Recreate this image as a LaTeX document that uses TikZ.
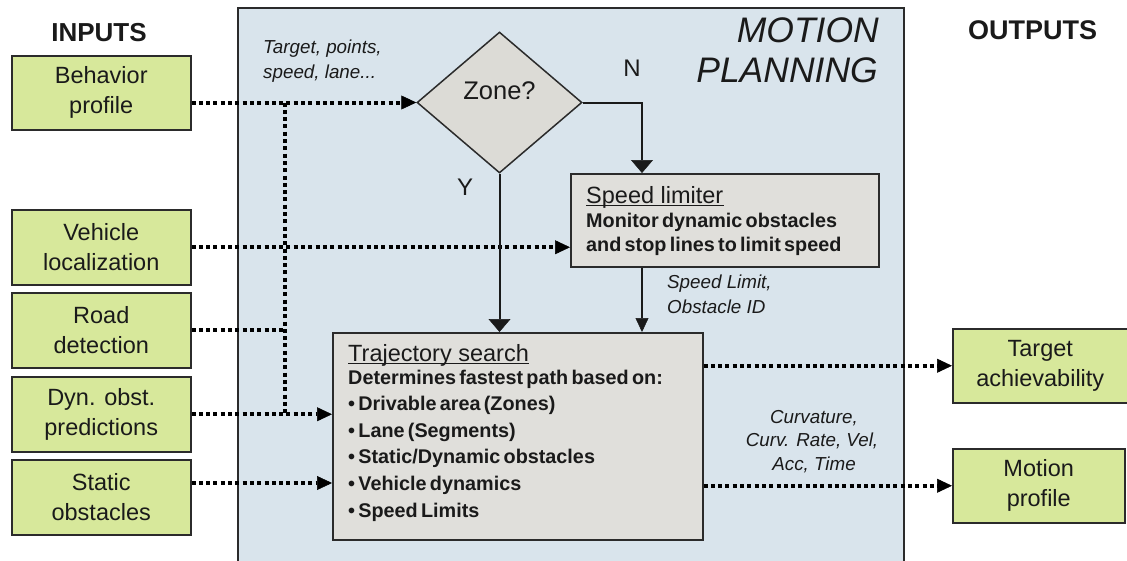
\documentclass[tikz,border=0pt]{standalone}
\usepackage{fontspec}
\setmainfont{Liberation Sans}
\newfontfamily\tightfont{Liberation Sans}[WordSpace=0.6]
\usetikzlibrary{arrows.meta,shapes.geometric}

\definecolor{panelblue}{HTML}{D9E4EC}
\definecolor{ingreen}{HTML}{D7E89B}
\definecolor{procgray}{HTML}{E0DFDB}
\definecolor{decgray}{HTML}{DCDBD6}
\definecolor{edge}{HTML}{2B2B2B}
\definecolor{ink}{HTML}{1A1A1A}

\tikzset{
  txt/.style={inner sep=0pt, text=ink},
  iobox/.style={draw=edge, line width=1.5pt, fill=ingreen, anchor=north west,
    minimum height=74pt, align=center, inner sep=0pt, text=ink,
    font=\fontsize{23.5}{30}\selectfont},
  procbox/.style={draw=edge, line width=1.5pt, fill=procgray, anchor=north west, inner sep=0pt},
  head/.style={txt, anchor=base, font=\bfseries\fontsize{26}{30}\selectfont},
  boxtitle/.style={txt, anchor=base west, font=\fontsize{23.5}{28}\selectfont},
  boxline/.style={txt, anchor=base west, font=\tightfont\bfseries\fontsize{19.8}{24}\selectfont},
  note/.style={txt, font=\itshape\fontsize{18.8}{24}\selectfont},
  yn/.style={txt, anchor=base, font=\fontsize{24}{28}\selectfont},
  uline/.style={draw=ink, line width=1.2pt},
  flow/.style={draw=ink, line width=2pt, -{Triangle[length=13pt,width=22pt,line width=0.5pt]}},
  flowsmall/.style={draw=ink, line width=2pt, -{Triangle[length=14pt,width=13pt,line width=0.5pt]}},
  dataflow/.style={draw=black, line width=4pt, dash pattern=on 4pt off 3.3pt,
    -{Triangle[length=15pt,width=14pt,line width=0.5pt]}},
  datalink/.style={draw=black, line width=4pt, dash pattern=on 4pt off 3.3pt},
}

\begin{document}
\begin{tikzpicture}[x=1pt,y=-1pt]
\useasboundingbox (0,0) rectangle (1127,560);
\clip (0,0) rectangle (1127,560);

% motion planning panel
\node[draw=edge, line width=2pt, fill=panelblue, anchor=north west, inner sep=0pt,
      minimum width=666pt, minimum height=580pt] (panel) at (237,7) {};
\node[txt, anchor=base east, font=\itshape\fontsize{35.5}{40}\selectfont] (mp1) at (879,42) {MOTION};
\node[txt, anchor=base east, font=\itshape\fontsize{35.5}{40}\selectfont] (mp2) at (878,82) {PLANNING};

% column headings
\node[head] (inhead) at (99,41) {INPUTS};
\node[head, font=\bfseries\fontsize{27}{30}\selectfont] (outhead) at (1032.5,39.5) {OUTPUTS};

% inputs
\node[iobox, minimum width=179pt] (beh) at (11,55) {Behavior\\profile};
\node[iobox, minimum width=179pt, minimum height=75pt] (veh) at (11,209) {Vehicle\\localization};
\node[iobox, minimum width=179pt, minimum height=75pt] (road) at (11,292) {Road\\detection};
\node[iobox, minimum width=179pt, minimum height=75pt] (dyn) at (11,376) {Dyn. obst.\\predictions};
\node[iobox, minimum width=179pt, minimum height=75pt] (stat) at (11,459) {Static\\obstacles};

% outputs
\node[iobox, minimum width=175pt] (tgt) at (952,328) {Target\\achievability};
\node[iobox, minimum width=172pt] (mot) at (952,448) {Motion\\profile};

% zone decision
\node[diamond, draw=edge, line width=1.5pt, fill=decgray, inner sep=0pt,
      minimum width=165pt, minimum height=141pt] (zone) at (499.5,102.5) {};
\node[txt, anchor=base, font=\fontsize{25.5}{30}\selectfont] (zonetxt) at (499.5,99.5) {Zone?};
\node[yn] (nlab) at (632,76) {N};
\node[yn] (ylab) at (465,195) {Y};

% speed limiter
\node[procbox, minimum width=308pt, minimum height=93pt] (speed) at (570,173) {};
\node[boxtitle] (sptitle) at (586,203) {Speed limiter};
\draw[uline] ([yshift=-2.5pt]sptitle.base west) -- ([yshift=-2.5pt]sptitle.base east);
\node[boxline] (sp1) at (586,227) {Monitor dynamic obstacles};
\node[boxline] (sp2) at (586,251) {and stop lines to limit speed};

% trajectory search
\node[procbox, minimum width=370pt, minimum height=207pt] (traj) at (332,332) {};
\node[boxtitle] (trtitle) at (348,361) {Trajectory search};
\draw[uline] ([yshift=-2.5pt]trtitle.base west) -- ([yshift=-2.5pt]trtitle.base east);
\node[boxline] (tr0) at (348,384) {Determines fastest path based on:};
\node[boxline] (tr1) at (348,410) {\textbullet\ Drivable area (Zones)};
\node[boxline] (tr2) at (348,437) {\textbullet\ Lane (Segments)};
\node[boxline] (tr3) at (348,463) {\textbullet\ Static/Dynamic obstacles};
\node[boxline] (tr4) at (348,490) {\textbullet\ Vehicle dynamics};
\node[boxline] (tr5) at (348,517) {\textbullet\ Speed Limits};

% flow labels
\node[note, anchor=base west] (tn1) at (263,53) {Target, points,};
\node[note, anchor=base west] (tn2) at (263,78) {speed, lane...};
\node[note, anchor=base west] (sl1) at (667,288) {Speed Limit,};
\node[note, anchor=base west] (sl2) at (667,313) {Obstacle ID};
\node[note, anchor=base] (cv1) at (814,423) {Curvature,};
\node[note, anchor=base] (cv2) at (812,446.5) {Curv. Rate, Vel,};
\node[note, anchor=base] (cv3) at (814,470) {Acc, Time};

% data connectors
\coordinate (tapTop) at (285,102.5);
\coordinate (tapBot) at (285,413.5);
\coordinate (statY) at (0,483);
\draw[dataflow] (beh.east |- zone.west) -- (zone.west);
\draw[datalink] (tapTop) -- (tapBot);
\draw[dataflow] (veh.east) -- (veh.east -| speed.west);
\draw[datalink] (road.east) -- (road.east -| tapTop);
\draw[dataflow] (dyn.east) -- (dyn.east -| traj.west);
\draw[dataflow] (stat.east |- statY) -- (traj.west |- statY);
\draw[dataflow] (traj.east |- tgt.west) -- (tgt.west);
\draw[dataflow] (traj.east |- mot.west) -- (mot.west);

% control flow
\coordinate (spin) at ([xshift=72pt]speed.north west);
\coordinate (spout) at ([xshift=72pt]speed.south west);
\draw[flow] (zone.east) -| (spin);
\draw[flow] (zone.south) -- (zone.south |- traj.north);
\draw[flowsmall] (spout) -- (spout |- traj.north);
\end{tikzpicture}
\end{document}
